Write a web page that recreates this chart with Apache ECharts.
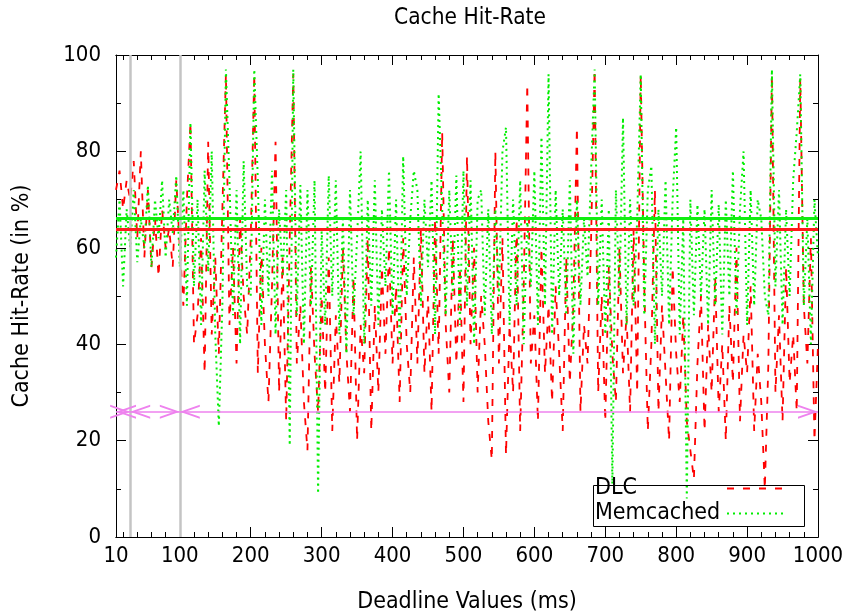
<!DOCTYPE html>
<html><head><meta charset="utf-8">
<script src="https://cdn.jsdelivr.net/npm/echarts@6/dist/echarts.min.js"></script>
<style>html,body{margin:0;padding:0;background:#fff}#c{width:849px;height:615px}</style>
</head><body><div id="c"></div>
<script>
// deadline values (ms), sampled every 5 ms from 10 to 1000
const deadlines = [];
for (let d = 10; d <= 1000; d += 5) deadlines.push(d);

const dlc = [
  72, 76, 68, 74, 70, 78, 62, 80, 58, 72,
  56, 66, 54, 68, 60, 64, 56, 74, 60, 48,
  70, 86, 40, 46, 62, 34, 82, 42, 58, 38,
  68, 96, 44, 60, 36, 66, 50, 42, 62, 96,
  34, 60, 40, 28, 52, 82, 30, 58, 24, 62,
  96, 36, 48, 28, 18, 56, 38, 26, 50, 30,
  58, 22, 46, 32, 60, 38, 26, 54, 20, 44,
  34, 62, 22, 48, 30, 56, 38, 60, 36, 52,
  28, 62, 40, 30, 58, 36, 64, 34, 50, 26,
  66, 38, 84, 44, 30, 62, 36, 56, 28, 79,
  40, 60, 30, 50, 40, 24, 16, 80, 36, 62,
  17, 44, 30, 66, 22, 52, 94, 36, 46, 24,
  60, 34, 48, 28, 52, 38, 22, 58, 32, 48,
  85, 26, 44, 36, 62, 97, 30, 50, 24, 56,
  38, 28, 60, 34, 46, 26, 64, 30, 96, 52,
  22, 40, 72, 26, 48, 34, 20, 56, 38, 28,
  46, 24, 18, 12, 36, 50, 22, 44, 30, 54,
  26, 40, 20, 48, 32, 60, 24, 42, 34, 52,
  22, 38, 28, 10, 36, 96, 30, 46, 24, 56,
  32, 42, 26, 95, 48, 36, 62, 20, 40
];
const memcached = [
  58, 70, 52, 68, 60, 72, 57, 66, 60, 73,
  56, 70, 62, 74, 58, 70, 63, 75, 56, 72,
  48, 86, 52, 70, 44, 76, 55, 80, 42, 23,
  48, 97, 74, 46, 72, 40, 78, 52, 50, 97,
  74, 44, 70, 50, 76, 42, 68, 54, 72, 19,
  97, 46, 73, 40, 72, 48, 74, 9, 64, 44,
  75, 50, 74, 42, 66, 38, 72, 46, 62, 80,
  40, 70, 48, 74, 44, 68, 52, 76, 46, 70,
  40, 79, 50, 66, 76, 72, 48, 70, 56, 74,
  42, 92, 68, 46, 72, 50, 75, 44, 76, 48,
  74, 40, 70, 72, 46, 68, 42, 68, 50, 80,
  85, 44, 70, 48, 74, 40, 66, 52, 76, 44,
  83, 48, 96, 42, 72, 50, 68, 46, 74, 38,
  70, 48, 66, 54, 76, 97, 48, 70, 42, 68,
  11, 72, 50, 87, 44, 70, 48, 66, 96, 46,
  72, 77, 40, 68, 50, 74, 44, 70, 85, 42,
  66, 8, 70, 46, 69, 50, 68, 44, 72, 48,
  69, 42, 70, 50, 76, 46, 68, 80, 44, 72,
  48, 70, 66, 50, 46, 97, 52, 72, 44, 68,
  50, 74, 84, 96, 48, 66, 40, 70, 58
];
const xTickLabels = [10, 100, 200, 300, 400, 500, 600, 700, 800, 900, 1000];
const dlcAverage = 63.8;
const memcachedAverage = 66.2;
const markerDeadlines = [30, 100];
const rangeArrows = [[10, 30], [30, 100], [100, 1000]];
const arrowLevel = 26;

const xMinorTicks = [];
for (let v = 20; v < 1000; v += 20) if (v % 100 !== 0) xMinorTicks.push(v);

const FONT = '"DejaVu Sans Condensed", "DejaVu Sans", sans-serif';
const TXT = '#000';
const pairs = (arr) => deadlines.map((d, i) => [d, arr[i]]);
const headPath = 'path://M50 50 L100 100 L86 100 L50 64 L14 100 L0 100 Z M50 0 L50 0 Z';

const chart = echarts.init(document.getElementById('c'), null, {renderer: 'canvas'});

function xAx(pos, ticks, len, labels) {
  return {
    type: 'value', position: pos, min: 10, max: 1000,
    axisLine: {show: true, onZero: false, lineStyle: {color: '#000', width: 1}},
    axisTick: {show: true, inside: true, length: len, customValues: ticks, lineStyle: {color: '#000', width: 1}},
    axisLabel: labels ? {show: true, customValues: ticks, formatter: v => String(v), fontFamily: FONT, fontSize: 22, color: TXT, margin: 8} : {show: false},
    splitLine: {show: false},
    name: labels ? 'Deadline Values (ms)' : '',
    nameLocation: 'middle', nameGap: 54,
    nameTextStyle: {fontFamily: FONT, fontSize: 23, color: TXT}
  };
}
function yAx(pos, labels) {
  return {
    type: 'value', position: pos, min: 0, max: 100, interval: 20,
    axisLine: {show: true, onZero: false, lineStyle: {color: '#000', width: 1}},
    axisTick: {show: true, inside: true, length: 10, lineStyle: {color: '#000', width: 1}},
    minorTick: {show: true, splitNumber: 2, length: 5, lineStyle: {color: '#000', width: 1}},
    axisLabel: labels ? {show: true, fontFamily: FONT, fontSize: 22, color: TXT, margin: 15} : {show: false},
    splitLine: {show: false}, minorSplitLine: {show: false},
    name: labels ? 'Cache Hit-Rate (in %)' : '',
    nameLocation: 'middle', nameGap: 82,
    nameTextStyle: {fontFamily: FONT, fontSize: 23, color: TXT}
  };
}

const option = {
  animation: false,
  backgroundColor: '#fff',
  title: {
    text: 'Cache Hit-Rate', left: 465, top: 2, textAlign: 'center',
    textStyle: {fontFamily: FONT, fontSize: 22.5, fontWeight: 'normal', color: TXT}
  },
  grid: {left: 116, right: 31, top: 55, bottom: 78, outerBoundsMode: 'none', containLabel: false},
  xAxis: [
    xAx('bottom', xTickLabels, 10, true),
    xAx('bottom', xMinorTicks, 5, false),
    xAx('top', xTickLabels, 10, false),
    xAx('top', xMinorTicks, 5, false)
  ],
  yAxis: [yAx('left', true), yAx('right', false)],
  legend: {
    data: ['DLC', 'Memcached'],
    orient: 'vertical', left: 593, top: 476, align: 'right',
    itemWidth: 60, itemHeight: 10, itemGap: 0, padding: [0, 17, 0, 2],
    itemStyle: {opacity: 0},
    formatter: name => '{n|' + name + '}',
    textStyle: {
      fontFamily: FONT, fontSize: 23, color: TXT, lineHeight: 25,
      rich: {n: {width: 127, align: 'left', fontFamily: FONT, fontSize: 23, color: TXT, lineHeight: 25}}
    },
    selectedMode: false
  },
  graphic: [{
    type: 'rect', shape: {x: 593.5, y: 485.5, width: 211, height: 41},
    style: {fill: null, stroke: '#000', lineWidth: 1}, z: 100, silent: true
  }],
  series: [
    {
      name: 'markers-back', type: 'line', data: [], z: 1, silent: true,
      markLine: {
        silent: true, symbol: ['none', 'none'], label: {show: false},
        lineStyle: {color: '#c4c4c4', width: 2.5, type: 'solid'},
        data: markerDeadlines.map(v => ({xAxis: v}))
      }
    },
    {
      name: 'DLC', type: 'line', data: pairs(dlc), symbol: 'none', showSymbol: false, z: 2,
      lineStyle: {color: '#ff0000', width: 1.8, type: [7, 9]},
      itemStyle: {color: '#ff0000'}
    },
    {
      name: 'Memcached', type: 'line', data: pairs(memcached), symbol: 'none', showSymbol: false, z: 3,
      lineStyle: {color: '#00ee00', width: 2, type: [2, 4]},
      itemStyle: {color: '#00ee00'}
    },
    {
      name: 'markers-front', type: 'line', data: [], z: 4, silent: true,
      markLine: {
        silent: true, symbol: ['none', 'none'], label: {show: false},
        data: [
          {yAxis: memcachedAverage, lineStyle: {color: '#10ee10', width: 3, type: 'solid'}},
          {yAxis: dlcAverage, lineStyle: {color: '#ff1a1a', width: 3, type: 'solid'}}
        ]
      }
    },
    {
      name: 'arrows', type: 'line', data: [], z: 5, silent: true,
      markLine: {
        silent: true, symbol: [headPath, headPath], symbolSize: [14, 40], label: {show: false},
        lineStyle: {color: '#ee82ee', width: 1.5, type: 'solid'},
        data: rangeArrows.map(r => [{coord: [r[0], arrowLevel]}, {coord: [r[1], arrowLevel]}])
      }
    }
  ]
};
chart.setOption(option);
</script>
</body></html>
